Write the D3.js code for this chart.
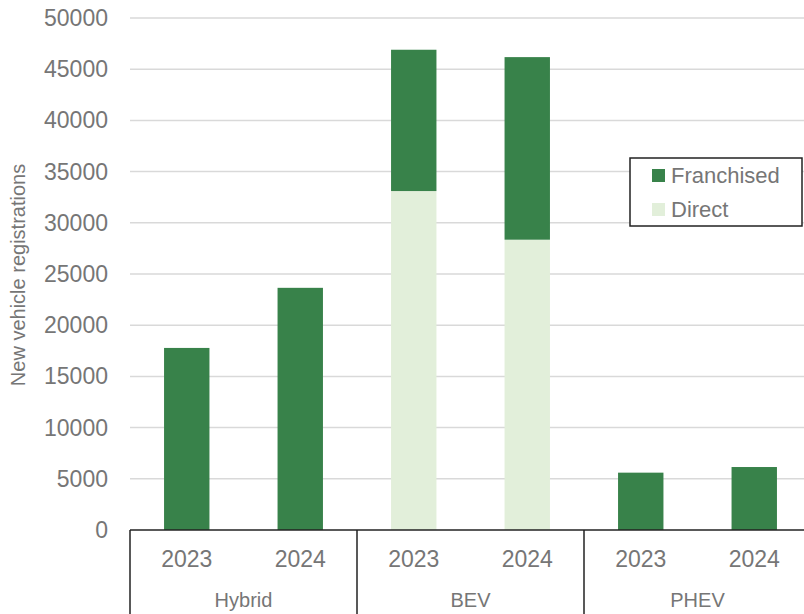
<!DOCTYPE html>
<html>
<head>
<meta charset="utf-8">
<script src="https://cdn.jsdelivr.net/npm/d3@7"></script>
<style>
  body { margin: 0; background: #fff; }
  svg { font-family: "Liberation Sans", Arial, sans-serif; }
</style>
</head>
<body>
<svg id="chart" width="804" height="614"></svg>
<script>
var groups = ["Hybrid", "BEV", "PHEV"];
var years = ["2023", "2024"];
var direct = [0, 0, 33100, 28350, 0, 0];
var franchised = [17780, 23650, 13800, 17830, 5600, 6150];
var yTicks = [0, 5000, 10000, 15000, 20000, 25000, 30000, 35000, 40000, 45000, 50000];

var darkGreen = "#38824a";
var lightGreen = "#e2efda";
var grey = "#767676";

var margin = {top: 18, left: 130};
var width = 681;
var height = 512;

var svg = d3.select("#chart");
var g = svg.append("g")
    .attr("transform", "translate(" + margin.left + "," + margin.top + ")");

// one slot per group/year pair
var slots = [];
groups.forEach(gr => years.forEach(yr => slots.push(gr + "|" + yr)));

var x = d3.scaleBand()
  .domain(slots)
  .range([0, width])
  .paddingInner(0.6)
  .paddingOuter(0.3);

var y = d3.scaleLinear()
  .domain([0, 50000])
  .range([height, 0]);

// gridlines
g.append("g")
  .selectAll("line")
  .data(yTicks.filter(d => d > 0))
  .join("line")
    .attr("x1", 0)
    .attr("x2", width)
    .attr("y1", d => y(d))
    .attr("y2", d => y(d))
    .attr("stroke", "#d9d9d9")
    .attr("stroke-width", 1.5);

// y tick labels
g.append("g")
  .selectAll("text")
  .data(yTicks)
  .join("text")
    .attr("x", -22)
    .attr("y", d => y(d))
    .attr("dy", "0.35em")
    .attr("text-anchor", "end")
    .attr("fill", grey)
    .style("font-size", "23px")
    .text(d => d);

// stacked bars
var stacked = slots.map((s, i) => ({key: s, direct: direct[i], franchised: franchised[i]}));

g.append("g")
  .selectAll("rect")
  .data(stacked)
  .join("rect")
    .attr("x", d => x(d.key))
    .attr("width", x.bandwidth())
    .attr("y", d => y(d.direct))
    .attr("height", d => y(0) - y(d.direct))
    .attr("fill", lightGreen);

g.append("g")
  .selectAll("rect")
  .data(stacked)
  .join("rect")
    .attr("x", d => x(d.key))
    .attr("width", x.bandwidth())
    .attr("y", d => y(d.direct + d.franchised))
    .attr("height", d => y(d.direct) - y(d.direct + d.franchised))
    .attr("fill", darkGreen);

// category axis
g.append("line")
  .attr("x1", 0).attr("x2", width)
  .attr("y1", height).attr("y2", height)
  .attr("stroke", "#222").attr("stroke-width", 1.5);

var groupW = width / groups.length;
g.append("g")
  .selectAll("line")
  .data(d3.range(groups.length + 1))
  .join("line")
    .attr("x1", i => i * groupW)
    .attr("x2", i => i * groupW)
    .attr("y1", height)
    .attr("y2", height + 100)
    .attr("stroke", "#222")
    .attr("stroke-width", 1.5);

g.append("g")
  .selectAll("text")
  .data(slots)
  .join("text")
    .attr("x", d => x(d) + x.bandwidth() / 2)
    .attr("y", height + 37)
    .attr("text-anchor", "middle")
    .attr("fill", grey)
    .style("font-size", "23px")
    .text(d => d.split("|")[1]);

g.append("g")
  .selectAll("text")
  .data(groups)
  .join("text")
    .attr("x", (d, i) => i * groupW + groupW / 2)
    .attr("y", height + 77)
    .attr("text-anchor", "middle")
    .attr("fill", grey)
    .style("font-size", "20px")
    .text(d => d);

// y axis title
svg.append("text")
  .attr("transform", "rotate(-90)")
  .attr("x", -(margin.top + 257))
  .attr("y", 25)
  .attr("text-anchor", "middle")
  .attr("fill", grey)
  .style("font-size", "20px")
  .text("New vehicle registrations");

// legend
var legend = svg.append("g").attr("transform", "translate(630,158)");
legend.append("rect")
  .attr("width", 172)
  .attr("height", 68)
  .attr("fill", "#fff")
  .attr("stroke", "#222")
  .attr("stroke-width", 1.5);

var legendItems = [["Franchised", darkGreen], ["Direct", lightGreen]];
var item = legend.selectAll("g.item")
  .data(legendItems)
  .join("g")
    .attr("class", "item")
    .attr("transform", (d, i) => "translate(22," + (11 + i * 34) + ")");
item.append("rect")
  .attr("width", 13)
  .attr("height", 13)
  .attr("fill", d => d[1]);
item.append("text")
  .attr("x", 19)
  .attr("y", 6.5)
  .attr("dy", "0.35em")
  .attr("fill", grey)
  .style("font-size", "22px")
  .text(d => d[0]);
</script>
</body>
</html>
